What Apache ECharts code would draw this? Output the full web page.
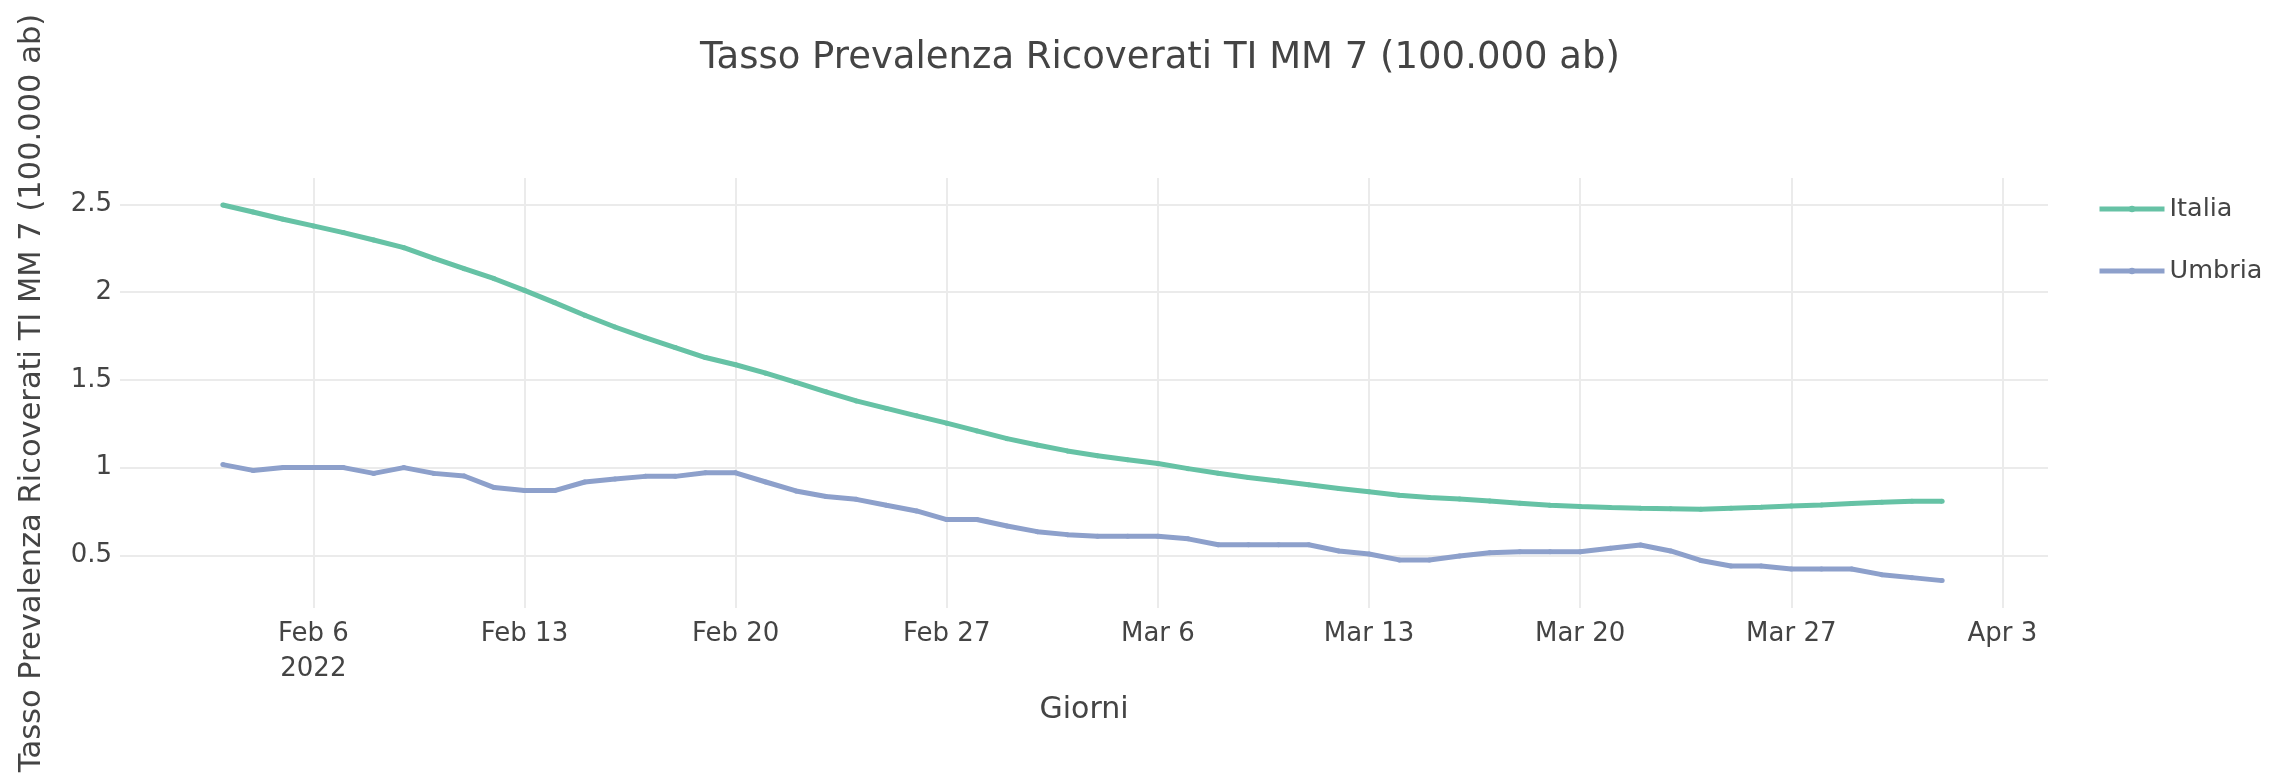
<!DOCTYPE html>
<html>
<head>
<meta charset="utf-8">
<script src="https://cdn.jsdelivr.net/npm/echarts@6/dist/echarts.min.js"></script>
<style>
html,body{margin:0;padding:0;background:#fff;}
#chart{width:2270px;height:777px;}
</style>
</head>
<body>
<div id="chart"></div>
<script>
const dates = ['2022-02-03','2022-02-04','2022-02-05','2022-02-06','2022-02-07','2022-02-08','2022-02-09','2022-02-10','2022-02-11','2022-02-12',
'2022-02-13','2022-02-14','2022-02-15','2022-02-16','2022-02-17','2022-02-18','2022-02-19','2022-02-20','2022-02-21','2022-02-22',
'2022-02-23','2022-02-24','2022-02-25','2022-02-26','2022-02-27','2022-02-28','2022-03-01','2022-03-02','2022-03-03','2022-03-04',
'2022-03-05','2022-03-06','2022-03-07','2022-03-08','2022-03-09','2022-03-10','2022-03-11','2022-03-12','2022-03-13','2022-03-14',
'2022-03-15','2022-03-16','2022-03-17','2022-03-18','2022-03-19','2022-03-20','2022-03-21','2022-03-22','2022-03-23','2022-03-24',
'2022-03-25','2022-03-26','2022-03-27','2022-03-28','2022-03-29','2022-03-30','2022-03-31','2022-04-01'];

const italia = [2.496,2.456,2.415,2.377,2.339,2.297,2.253,2.192,2.133,2.076,
2.010,1.940,1.868,1.801,1.740,1.684,1.627,1.586,1.538,1.485,
1.432,1.380,1.337,1.295,1.253,1.209,1.165,1.129,1.095,1.068,
1.045,1.023,0.994,0.968,0.943,0.923,0.902,0.881,0.862,0.843,
0.830,0.821,0.809,0.797,0.785,0.778,0.772,0.768,0.766,0.762,
0.768,0.774,0.781,0.787,0.795,0.802,0.808,0.808];

const umbria = [1.017,0.984,1.000,1.000,1.000,0.967,1.000,0.967,0.952,0.886,
0.869,0.869,0.918,0.935,0.950,0.950,0.970,0.970,0.918,0.867,
0.835,0.819,0.785,0.753,0.704,0.704,0.667,0.635,0.618,0.609,
0.609,0.609,0.594,0.560,0.560,0.560,0.560,0.525,0.508,0.474,
0.474,0.496,0.515,0.521,0.521,0.521,0.540,0.559,0.525,0.471,
0.439,0.439,0.422,0.422,0.422,0.390,0.373,0.356];

const xTicks = ['2022-02-06','2022-02-13','2022-02-20','2022-02-27','2022-03-06','2022-03-13','2022-03-20','2022-03-27','2022-04-03'];
const yTicks = [0.5, 1, 1.5, 2, 2.5];
const seriesNames = ['Italia', 'Umbria'];
const titleText = 'Tasso Prevalenza Ricoverati TI MM 7 (100.000 ab)';
const xTitle = 'Giorni';
const yTitle = 'Tasso Prevalenza Ricoverati TI MM 7 (100.000 ab)';

const MONTHS = ['Jan','Feb','Mar','Apr','May','Jun','Jul','Aug','Sep','Oct','Nov','Dec'];
const DAY = 86400000;
const parse = s => { const p = s.split('-').map(Number); return Date.UTC(p[0], p[1] - 1, p[2]); };
const xTickVals = xTicks.map(parse);
const firstTick = xTickVals[0];

const FONT = '"DejaVu Sans", Verdana, sans-serif';
const TXT = '#444';
const COLORS = ['#66c2a5', '#8da0cb'];

const chart = echarts.init(document.getElementById('chart'), null, {renderer: 'canvas'});
chart.setOption({
  animation: false,
  backgroundColor: '#fff',
  textStyle: {fontFamily: FONT},
  title: {
    text: titleText,
    left: 700, top: 40, padding: 0,
    textStyle: {fontFamily: FONT, fontSize: 37, fontWeight: 'normal', color: TXT}
  },
  legend: {
    orient: 'vertical',
    left: 2097, top: 194, padding: 0,
    itemWidth: 65, itemHeight: 8, itemGap: 32,
    lineStyle: {width: 5},
    textStyle: {fontFamily: FONT, fontSize: 25.5, color: TXT, lineHeight: 30},
    data: seriesNames
  },
  grid: {left: 120, right: 222, top: 178, bottom: 169, containLabel: false},
  xAxis: {
    type: 'value',
    min: firstTick - 6.41 * DAY,
    max: firstTick + 57.51 * DAY,
    name: xTitle,
    nameLocation: 'middle',
    nameGap: 87,
    nameTextStyle: {fontFamily: FONT, fontSize: 30, color: TXT},
    axisLine: {show: false},
    axisTick: {show: false, customValues: xTickVals},
    axisLabel: {
      customValues: xTickVals,
      fontFamily: FONT, fontSize: 26, color: TXT, margin: 9, lineHeight: 35,
      hideOverlap: false,
      formatter: function (v) {
        const d = new Date(v);
        let s = MONTHS[d.getUTCMonth()] + ' ' + d.getUTCDate();
        if (Math.abs(v - firstTick) < DAY / 2) s += '\n' + d.getUTCFullYear();
        return s;
      }
    },
    splitLine: {show: true, lineStyle: {color: '#ebebeb', width: 2}}
  },
  yAxis: {
    type: 'value',
    min: 0.2,
    max: 2.65,
    name: yTitle,
    nameLocation: 'middle',
    nameGap: 72,
    nameTextStyle: {fontFamily: FONT, fontSize: 30.5, color: TXT},
    axisLine: {show: false},
    axisTick: {show: false, customValues: yTicks},
    axisLabel: {customValues: yTicks, fontFamily: FONT, fontSize: 26, color: TXT, margin: 8},
    splitLine: {show: true, lineStyle: {color: '#ebebeb', width: 2}}
  },
  series: [
    {
      name: seriesNames[0], type: 'line',
      data: dates.map((d, i) => [parse(d), italia[i]]),
      color: COLORS[0],
      lineStyle: {width: 5, color: COLORS[0]},
      symbol: 'circle', symbolSize: 5, showSymbol: true,
      itemStyle: {color: COLORS[0]}
    },
    {
      name: seriesNames[1], type: 'line',
      data: dates.map((d, i) => [parse(d), umbria[i]]),
      color: COLORS[1],
      lineStyle: {width: 5, color: COLORS[1]},
      symbol: 'circle', symbolSize: 5, showSymbol: true,
      itemStyle: {color: COLORS[1]}
    }
  ]
});
</script>
</body>
</html>
